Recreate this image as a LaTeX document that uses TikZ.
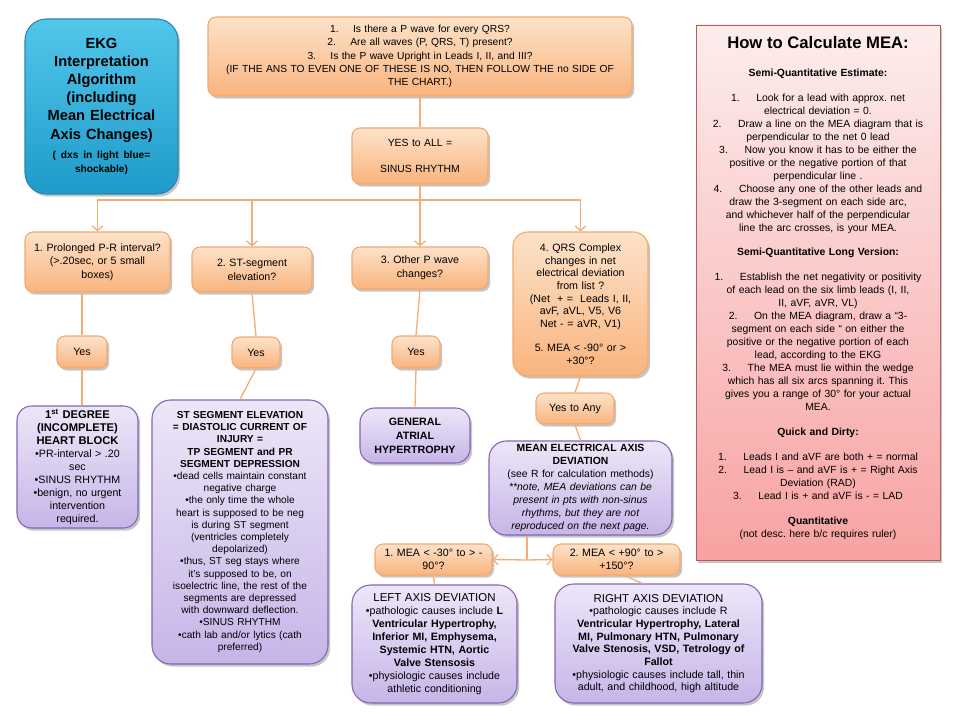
\documentclass[tikz,border=0pt]{standalone}
\usepackage{fontspec}
\setmainfont{Liberation Sans}
\usetikzlibrary{arrows.meta,shadows,calc}
\definecolor{orTop}{HTML}{FDE2C9}
\definecolor{orBot}{HTML}{F9B47E}
\definecolor{orLine}{HTML}{F3A96E}
\definecolor{puTop}{HTML}{EDE6F8}
\definecolor{puBot}{HTML}{C6B5E8}
\definecolor{puLine}{HTML}{8366B0}
\definecolor{blTop}{HTML}{52C6EB}
\definecolor{blBot}{HTML}{1E9BCA}
\definecolor{blLine}{HTML}{2A86AE}
\definecolor{pkTop}{HTML}{FDEDED}
\definecolor{pkBot}{HTML}{F8A2A2}
\definecolor{pkLine}{HTML}{B85A55}
\definecolor{connC}{HTML}{F4AE78}
\newcommand\fsz[2]{\fontsize{#1}{#2}\selectfont}
\frenchspacing
\begin{document}
\frenchspacing
\begin{tikzpicture}[x=0.75pt,y=-0.75pt,
  sz/.style 2 args={minimum width={#1*0.75pt},minimum height={#2*0.75pt},text width={(#1-8)*0.75pt}},
  shad/.style={drop shadow={shadow xshift=1.6pt,shadow yshift=-2pt,opacity=0.28,fill=black!80}},
  obox/.style={draw=orLine,line width=0.8pt,top color=orTop,bottom color=orBot,rounded corners=6pt,align=center,inner sep=2pt,shad},
  pbox/.style={draw=puLine,line width=0.8pt,top color=puTop,bottom color=puBot,rounded corners=11pt,align=center,inner sep=2pt,shad},
  bbox/.style={draw=blLine,line width=0.8pt,top color=blTop,bottom color=blBot,rounded corners=16pt,align=center,inner sep=2pt,shad},
  kbox/.style={draw=pkLine,line width=0.7pt,top color=pkTop,bottom color=pkBot,shad},
  cline/.style={draw=connC,line width=1pt},
  arr/.style={cline,-{Straight Barb[length=3.5pt,width=8pt]}},
]
\fill[white] (0,0) rectangle (960,720);
\useasboundingbox (0,0) rectangle (960,720);

% title
\node[bbox,sz={153}{175},font=\bfseries\fsz{11}{13.6}] (title) at (101.5,106.5)
 {EKG\\Interpretation\\Algorithm\\(including\\Mean Electrical\\Axis Changes)\par\vspace{4.5pt}
  {\fsz{7.6}{10.4}( dxs in light blue=\\shockable)\par}};

% top question box
\node[obox,sz={424}{79},font=\fsz{7.7}{10}] (q) at (420,56.5)
 {1.\hspace{1.4em}Is there a P wave for every QRS?\\
  2.\hspace{1.4em}Are all waves (P, QRS, T) present?\\
  3.\hspace{1.4em}Is the P wave Upright in Leads I, II, and III?\\
  (IF THE ANS TO EVEN ONE OF THESE IS NO, THEN FOLLOW THE no SIDE OF\\
  THE CHART.)};

\node[obox,sz={136}{56},font=\fsz{7.8}{10}] (yesall) at (420,156)
 {YES to ALL =\\[9.5pt]SINUS RHYTHM};

\node[obox,sz={145}{60},font=\fsz{8}{10.3}] (b1) at (97.5,262)
 {1. Prolonged P-R interval?\\(>.20sec, or 5 small\\boxes)};
\node[obox,sz={120}{45},font=\fsz{8}{10.3}] (b2) at (252,269.5)
 {2. ST-segment\\elevation?};
\node[obox,sz={136}{42},font=\fsz{8}{10.3}] (b3) at (420,268)
 {3. Other P wave\\changes?};
\node[obox,sz={135}{144},rounded corners=11pt,font=\fsz{8}{9.5}] (b4) at (580.5,304)
 {4. QRS Complex\\changes in net\\electrical deviation\\from list ?\\(Net \ + = \ Leads I, II,\\avF, aVL, V5, V6\\Net - = aVR, V1)\\[8.5pt]5. MEA < -90° or >\\+30°?};

\node[obox,sz={50}{32},font=\fsz{8}{10}] (y1) at (82,352) {Yes};
\node[obox,sz={48}{31},font=\fsz{8}{10}] (y2) at (256,352.5) {Yes};
\node[obox,sz={48}{32},font=\fsz{8}{10}] (y3) at (416,352) {Yes};
\node[obox,sz={78}{31},font=\fsz{8}{10}] (y4) at (575,408.5) {Yes to Any};

% diagnoses
\node[pbox,sz={121}{122},font=\fsz{8}{9.75}] (d1) at (77.5,467)
 {{\bfseries\fsz{8.4}{9.75}1\textsuperscript{st} DEGREE\\(INCOMPLETE)\\HEART BLOCK}\\
  •PR-interval > .20\\sec\\•SINUS RHYTHM\\•benign, no urgent\\intervention\\required.};

\node[pbox,sz={176}{264},rounded corners=14pt,font=\fsz{7.6}{9.15}] (d2) at (240,532)
 {{\bfseries ST SEGMENT ELEVATION\\= DIASTOLIC CURRENT OF\\INJURY =\\TP SEGMENT and PR\\SEGMENT DEPRESSION}\\
  •dead cells maintain constant\\negative charge\\•the only time the whole\\heart is supposed to be neg\\is during ST segment\\(ventricles completely\\depolarized)\\•thus, ST seg stays where\\it's supposed to be, on\\isoelectric line, the rest of the\\segments are depressed\\with downward deflection.\\•SINUS RHYTHM\\•cath lab and/or lytics (cath\\preferred)};

\node[pbox,sz={110}{55},font=\bfseries\fsz{8}{10.5}] (d3) at (415,435.5)
 {GENERAL\\ATRIAL\\HYPERTROPHY};

\node[pbox,sz={183}{94},rounded corners=13pt,font=\fsz{7.8}{9.75}] (d4) at (580.5,488)
 {{\bfseries MEAN ELECTRICAL AXIS\\DEVIATION}\\(see R for calculation methods)\\
  {\itshape **note, MEA deviations can be\\present in pts with non-sinus\\rhythms, but they are not\\reproduced on the next page.}};

\node[obox,sz={117}{31},font=\fsz{8}{10}] (m1) at (433.5,559.5)
 {1. MEA < -30° to > -\\90°?};
\node[obox,sz={127}{31},font=\fsz{8}{10}] (m2) at (616.5,559.5)
 {2. MEA < +90° to >\\+150°?};

\node[pbox,sz={165}{118},rounded corners=14pt,font=\fsz{8}{9.7}] (lad) at (434.5,644)
 {{\fsz{8.6}{9.7}LEFT AXIS DEVIATION}\\•pathologic causes include {\bfseries L}\\
  {\bfseries Ventricular Hypertrophy,\\Inferior MI, Emphysema,\\Systemic HTN, Aortic\\Valve Stensosis}\\
  •physiologic causes include\\athletic conditioning};

\node[pbox,sz={207}{119},rounded corners=14pt,font=\fsz{8}{9.5}] (rad) at (658.5,643.5)
 {{\fsz{8.6}{9.5}RIGHT AXIS DEVIATION}\\•pathologic causes include R\\
  {\bfseries Ventricular Hypertrophy, Lateral\\MI, Pulmonary HTN, Pulmonary\\Valve Stenosis, VSD, Tetrology of\\Fallot}\\
  •physiologic causes include tall, thin\\adult, and childhood, high altitude};

% right info box
\node[kbox,minimum width=183pt,minimum height=401.25pt] (calc) at (818,292.5) {};
\node[anchor=north,inner sep=0pt,font=\bfseries\fsz{12.5}{15}] (calch) at (818,36) {How to Calculate MEA:};
\node[anchor=north,inner sep=0pt,text width=180pt,align=center,font=\fsz{7.8}{9.75}] (calcb) at (818,68.5)
 {\textbf{Semi-Quantitative Estimate:}\\[9pt]
  1.\hspace{1.6em}Look for a lead with approx. net\\
  electrical deviation = 0.\\
  2.\hspace{1.6em}Draw a line on the MEA diagram that is\\
  perpendicular to the net 0 lead\\
  3.\hspace{1.6em}Now you know it has to be either the\\
  positive or the negative portion of that\\
  perpendicular line .\\
  4.\hspace{1.6em}Choose any one of the other leads and\\
  draw the 3-segment on each side arc,\\
  and whichever half of the perpendicular\\
  line the arc crosses, is your MEA.\\[8.25pt]
  \textbf{Semi-Quantitative Long Version:}\\[9pt]
  1.\hspace{1.6em}Establish the net negativity or positivity\\
  of each lead on the six limb leads (I, II,\\
  II, aVF, aVR, VL)\\
  2.\hspace{1.6em}On the MEA diagram, draw a “3-\\
  segment on each side “ on either the\\
  positive or the negative portion of each\\
  lead, according to the EKG\\
  3.\hspace{1.6em}The MEA must lie within the wedge\\
  which has all six arcs spanning it. This\\
  gives you a range of 30° for your actual\\
  MEA.\\[9pt]
  \textbf{Quick and Dirty:}\\[9pt]
  1.\hspace{1.6em}Leads I and aVF are both + = normal\\
  2.\hspace{1.6em}Lead I is – and aVF is + = Right Axis\\
  Deviation (RAD)\\
  3.\hspace{1.6em}Lead I is + and aVF is - = LAD\\[9pt]
  \textbf{Quantitative}\\
  (not desc. here b/c requires ruler)};

% connectors
\coordinate (J) at (420,200);
\coordinate (K) at (527,560);
\draw[cline] (q) -- (yesall);
\draw[cline] (yesall) -- (J);
\draw[arr] (J) -| (b1.north);
\draw[arr] (J) -| (b2.north);
\draw[arr] (J) -- (b3.north);
\draw[arr] (J) -| (b4.north);
\draw[cline] (y1.north |- b1.south) -- (y1.north);
\draw[cline] (b2.south) -- (y2.north);
\draw[cline] (b3.south) -- (y3.north);
\draw[cline] (b4.south) -- (y4.north);
\draw[cline] (y1.south) -- (y1.south |- d1.north);
\draw[cline] (y2.south) -- (d2.north);
\draw[cline] (y3.south) -- (d3.north);
\draw[cline] (y4.south) -- (d4.north);
\draw[cline] (K |- d4.south) -- (K);
\draw[arr] (K) -- (m1.east);
\draw[arr] (K) -- (m2.west);
\draw[cline] (m1.south) -- (lad.north);
\draw[cline] ([xshift=6pt]m2.south) -- ([xshift=-12pt]rad.north);
\end{tikzpicture}
\end{document}
